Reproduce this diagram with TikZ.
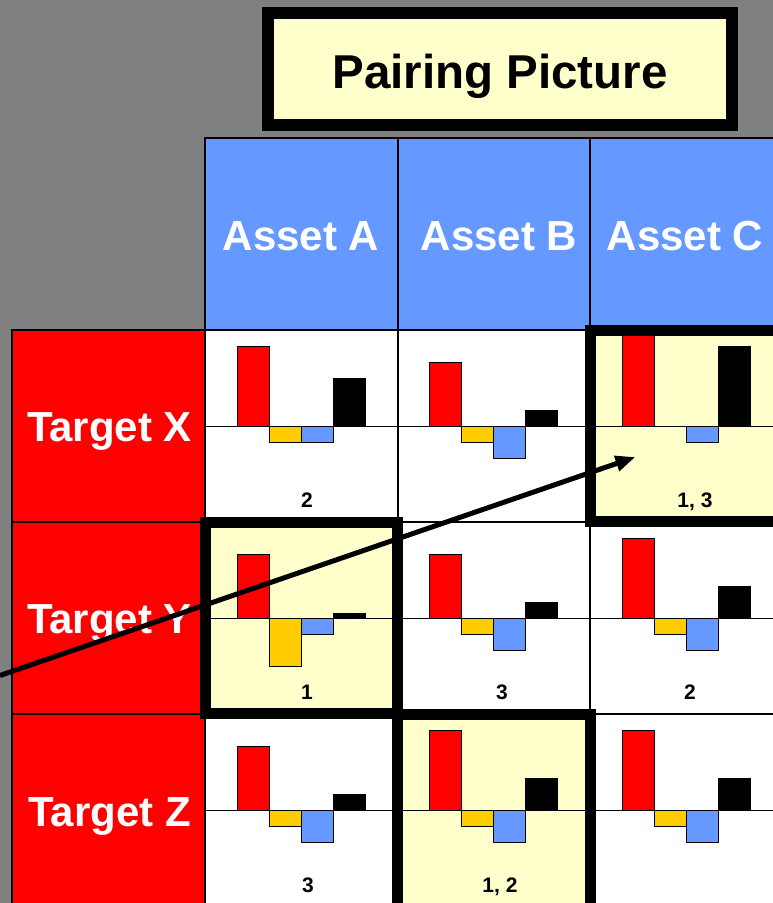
\documentclass[tikz,border=0pt]{standalone}
\usepackage{fontspec}
\setmainfont{Liberation Sans}
\usetikzlibrary{arrows.meta}

\definecolor{slate}{HTML}{808080}
\definecolor{hdrblue}{HTML}{6699FF}
\definecolor{rowred}{HTML}{FF0000}
\definecolor{cream}{HTML}{FFFFCC}
\definecolor{gold}{HTML}{FFCC00}

\tikzset{
  gridline/.style={draw=black, line width=2pt},
  barline/.style={draw=black, line width=1pt},
  heavybox/.style={draw=black, line width=11pt},
  titletext/.style={font=\bfseries\fontsize{47.5}{47.5}\selectfont, anchor=base, inner sep=0pt},
  celltext/.style={text=white, font=\bfseries\fontsize{42}{42}\selectfont, anchor=base, inner sep=0pt},
  numtext/.style={font=\bfseries\fontsize{21}{21}\selectfont, anchor=base, inner sep=0pt},
  pointer/.style={draw=black, line width=5pt, -{Triangle[length=20pt,width=15pt]}},
}

% small bar chart: #1 cell left, #2 axis y, #3-#6 bar heights (16pt steps, up positive)
\newcommand{\minichart}[6]{%
  \draw[line width=1pt] (#1,#2) -- ++(192.5,0);
  \filldraw[barline, fill=rowred]  ({#1+32},#2)  rectangle ++(32,{-16*(#3)});
  \filldraw[barline, fill=gold]    ({#1+64},#2)  rectangle ++(32,{-16*(#4)});
  \filldraw[barline, fill=hdrblue] ({#1+96},#2)  rectangle ++(32,{-16*(#5)});
  \filldraw[barline, fill=black]   ({#1+128},#2) rectangle ++(32,{-16*(#6)});
}

\begin{document}
\begin{tikzpicture}[x=1pt,y=-1pt]
\useasboundingbox (0,0) rectangle (773,903);
\clip (0,0) rectangle (773,903);
\fill[slate] (0,0) rectangle (773,903);

% title
\draw[line width=12pt, fill=cream] (268,13) rectangle (732,125);
\node[titletext] (title) at (500,88) {Pairing Picture};

% column headers
\filldraw[gridline, fill=hdrblue] (205,138) rectangle (397.5,330);
\filldraw[gridline, fill=hdrblue] (397.5,138) rectangle (590,330);
\filldraw[gridline, fill=hdrblue] (590,138) rectangle (783,330);
\node[celltext] (assetA) at (301,250) {Asset A};
\node[celltext] (assetB) at (499,250) {Asset B};
\node[celltext] (assetC) at (685,250) {Asset C};

% row headers
\filldraw[gridline, fill=rowred] (12,330) rectangle (205,522);
\filldraw[gridline, fill=rowred] (12,522) rectangle (205,714);
\filldraw[gridline, fill=rowred] (12,714) rectangle (205,906);
\node[celltext] (targetX) at (109.5,441) {Target X};
\node[celltext] (targetY) at (109.5,633) {Target Y};
\node[celltext] (targetZ) at (109.5,826) {Target Z};

% body cells
\filldraw[gridline, fill=white] (205,330) rectangle (397.5,522);
\filldraw[gridline, fill=white] (397.5,330) rectangle (590,522);
\filldraw[gridline, fill=cream] (590,330) rectangle (783,522);
\filldraw[gridline, fill=cream] (205,522) rectangle (397.5,714);
\filldraw[gridline, fill=white] (397.5,522) rectangle (590,714);
\filldraw[gridline, fill=white] (590,522) rectangle (783,714);
\filldraw[gridline, fill=white] (205,714) rectangle (397.5,906);
\filldraw[gridline, fill=cream] (397.5,714) rectangle (590,906);
\filldraw[gridline, fill=white] (590,714) rectangle (783,906);

% charts, row X
\minichart{205}{426}{5}{-1}{-1}{3}
\minichart{397.5}{426}{4}{-1}{-2}{1}
\minichart{590}{426}{6}{0}{-1}{5}
% row Y
\minichart{205}{618}{4}{-3}{-1}{0.28}
\minichart{397.5}{618}{4}{-1}{-2}{1}
\minichart{590}{618}{5}{-1}{-2}{2}
% row Z
\minichart{205}{810}{4}{-1}{-2}{1}
\minichart{397.5}{810}{5}{-1}{-2}{2}
\minichart{590}{810}{5}{-1}{-2}{2}

% rank labels
\node[numtext] (nXA) at (307,507) {2};
\node[numtext] (nXC) at (695,507) {1, 3};
\node[numtext] (nYA) at (307,699) {1};
\node[numtext] (nYB) at (502,699) {3};
\node[numtext] (nYC) at (690,699) {2};
\node[numtext] (nZA) at (308,892) {3};
\node[numtext] (nZB) at (500,892) {1, 2};

% chosen pairings
\draw[heavybox] (590,330.5) rectangle (790,521.5);
\draw[heavybox] (205.5,522) rectangle (397,713);
\draw[heavybox] (397,714.5) rectangle (590,920);

% pointer
\coordinate (tail) at (0,675.5);
\coordinate (tip) at (635.5,457);
\draw[pointer] (tail) -- (tip);
\end{tikzpicture}
\end{document}
